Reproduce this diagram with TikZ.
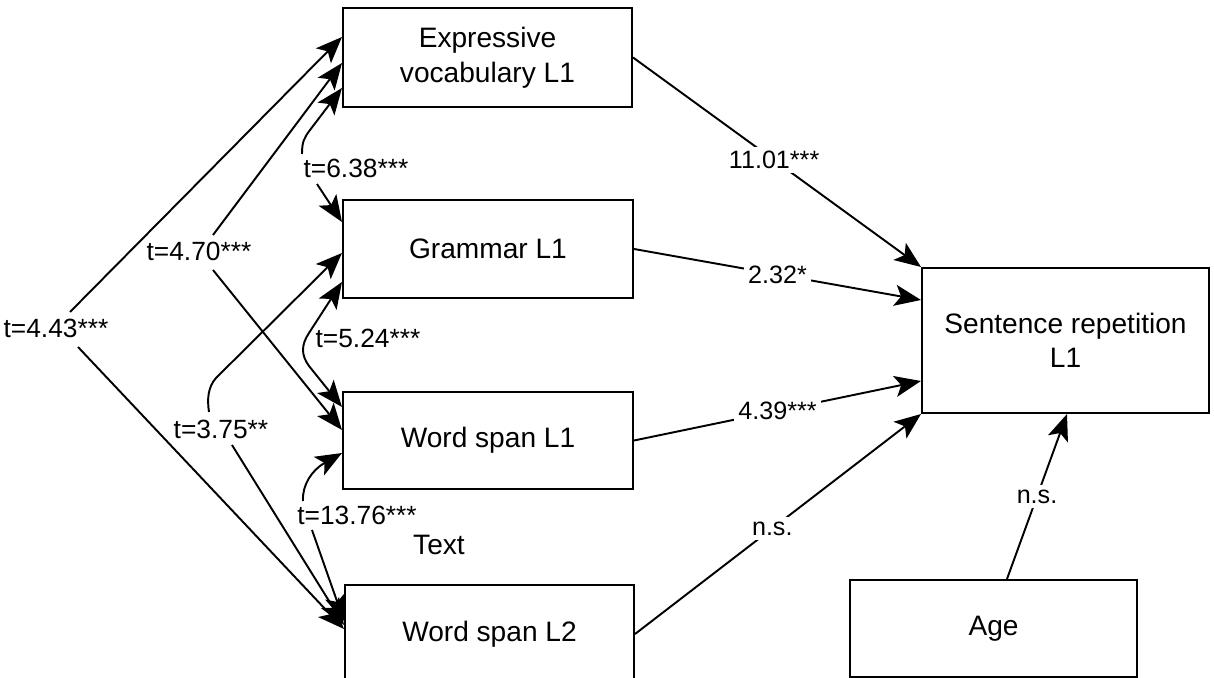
\documentclass[tikz,border=0pt]{standalone}
\usepackage{fontspec}
\setmainfont{Liberation Sans}
\usetikzlibrary{arrows.meta}
\begin{document}
\begin{tikzpicture}[x=0.02cm,y=-0.02cm,
  box/.style={draw, line width=1.2pt, inner sep=0pt, align=center, font=\fontsize{16}{20}\selectfont},
  lbl/.style={inner sep=1pt, font=\fontsize{15}{18}\selectfont},
  lblr/.style={fill=white, inner sep=2.5pt, font=\fontsize{14.3}{17}\selectfont},
  tip/.tip={Stealth[length=15pt,width=12pt,inset=3.5pt]},
  arr/.style={line width=1.1pt, -tip},
  arrb/.style={line width=1.1pt, tip-tip}]
\useasboundingbox (0,0) rectangle (1214,678);
\clip (0,0) rectangle (1214,678);

% boxes
\node[box, minimum width=5.78cm, minimum height=1.98cm] (ev) at (487.5,57.5) {Expressive\\vocabulary L1};
\node[box, minimum width=5.80cm, minimum height=1.96cm] (gr) at (488,249) {Grammar L1};
\node[box, minimum width=5.80cm, minimum height=1.94cm] (ws1) at (488,440.5) {Word span L1};
\node[box, minimum width=5.78cm, minimum height=1.96cm] (ws2) at (489.5,634) {Word span L2};
\node[box, minimum width=5.74cm, minimum height=2.90cm, font=\fontsize{16}{19.5}\selectfont] (sr) at (1065.5,340.5) {Sentence repetition\\L1};
\node[box, minimum width=5.74cm, minimum height=1.94cm] (age) at (993.5,628.5) {Age};

% left labels
\node[lbl] (l443) at (56,328) {t=4.43***};
\node[lbl] (l470) at (199,251) {t=4.70***};
\node[lbl] (l638) at (356,168) {t=6.38***};
\node[lbl] (l524) at (368,338) {t=5.24***};
\node[lbl] (l375) at (221,429) {t=3.75**};
\node[lbl] (l1376) at (357,515) {t=13.76***};
\node[lbl, font=\fontsize{16}{19}\selectfont] (txt) at (439,545) {Text};

% free ends near labels
\coordinate (a1) at (70,312);
\coordinate (a2) at (78,347);
\coordinate (b1) at (213,235);
\coordinate (b2) at (213,270);
\coordinate (c1) at (302,154);
\coordinate (c2) at (317,184);
\coordinate (e1) at (209,412);
\coordinate (e2) at (232,445);
\coordinate (f1) at (303,501);
\coordinate (f2) at (312,530);

% t=4.43
\draw[arr] (a1) -- (ev.west |- 0,37);
\draw[arr] (a2) -- (ws2.west |- 0,629);
% t=4.70
\draw[arr] (b1) -- (ev.west |- 0,63);
\draw[arr] (b2) -- (ws1.west |- 0,430);
% t=6.38
\draw[arr] (c1) .. controls (302,142) and (304,138) .. (310,130) -- (ev.west |- 0,88);
\draw[arr] (c2) -- (gr.west |- 0,222);
% t=5.24
\draw[arrb] (gr.west |- 0,282) -- (309,333) .. controls (301,345) and (301,355) .. (309,366) -- (ws1.west |- 0,407);
% t=3.75
\draw[arr] (e1) .. controls (207,399) and (208,387) .. (216,378) -- (gr.west |- 0,253);
\draw[arr] (e2) -- (ws2.west |- 0,625);
% t=13.76
\draw[arr] (f1) .. controls (302,485) and (312,470) .. (ws1.west |- 0,453);
\draw[arr] (f2) -- (ws2.west |- 0,621);

% right side
\draw[arr] (ev.east) -- node[lblr, pos=0.49]{11.01***} (sr.north west);
\draw[arr] (gr.east) -- node[lblr]{2.32*} (sr.west |- 0,300);
\draw[arr] (ws1.east) -- node[lblr]{4.39***} (sr.west |- 0,381);
\draw[arr] (ws2.east) -- node[lblr, pos=0.48]{n.s.} (sr.south west);
\draw[arr] (age.north -| 1007,0) -- node[lblr]{n.s.} (sr.south -| 1067,0);
\end{tikzpicture}
\end{document}
